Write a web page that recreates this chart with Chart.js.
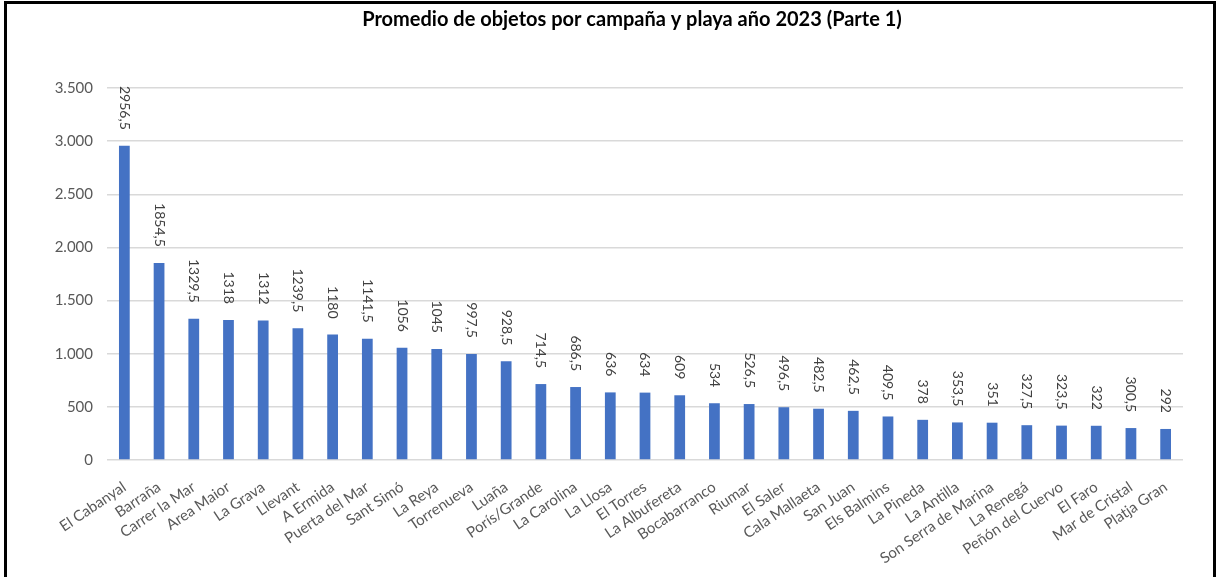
<!DOCTYPE html>
<html>
<head>
<meta charset="utf-8">
<script src="https://cdn.jsdelivr.net/npm/chart.js@4/dist/chart.umd.min.js"></script>
<style>
  html, body { margin: 0; padding: 0; background: #fff; overflow: hidden; }
  #wrap { position: relative; width: 1217px; height: 577px; }
  #frame { position: absolute; left: 4px; top: 1px; width: 1212px; height: 640px;
           box-sizing: border-box; border: 3px solid #000; pointer-events: none; }
</style>
</head>
<body>
<div id="wrap">
  <canvas id="chart" width="1217" height="577"></canvas>
  <div id="frame"></div>
</div>
<script>
// datos del grafico
var playas = ['El Cabanyal', 'Barraña', 'Carrer la Mar', 'Area Maior', 'La Grava', 'Llevant',
  'A Ermida', 'Puerta del Mar', 'Sant Simó', 'La Reya', 'Torrenueva', 'Luaña', 'Porís/Grande',
  'La Carolina', 'La Llosa', 'El Torres', 'La Albufereta', 'Bocabarranco', 'Riumar', 'El Saler',
  'Cala Mallaeta', 'San Juan', 'Els Balmins', 'La Pineda', 'La Antilla', 'Son Serra de Marina',
  'La Renegá', 'Peñón del Cuervo', 'El Faro', 'Mar de Cristal', 'Platja Gran'];
var promedios = [2956.5, 1854.5, 1329.5, 1318, 1312, 1239.5, 1180, 1141.5, 1056, 1045, 997.5,
  928.5, 714.5, 686.5, 636, 634, 609, 534, 526.5, 496.5, 482.5, 462.5, 409.5, 378, 353.5,
  351, 327.5, 323.5, 322, 300.5, 292];
var ejeMin = 0, ejeMax = 3500, ejePaso = 500;
var titulo = 'Promedio de objetos por campaña y playa año 2023 (Parte 1)';

var fuente = 'Lato, "Liberation Sans", sans-serif';

function miles(v) {
  return String(v).replace(/\B(?=(\d{3})+(?!\d))/g, '.');
}
function decimal(v) {
  return String(v).replace('.', ',');
}

// titulo (algo desplazado a la derecha como en el original) y etiquetas de valor giradas
var etiquetasPlugin = {
  id: 'etiquetas',
  afterDraw: function (chart) {
    var ctx = chart.ctx;
    ctx.save();
    ctx.font = 'bold 20px ' + fuente;
    ctx.fillStyle = '#000';
    ctx.textAlign = 'center';
    ctx.textBaseline = 'middle';
    ctx.fillText(titulo, 632, 20);
    ctx.restore();
  },
  afterDatasetsDraw: function (chart) {
    var ctx = chart.ctx;
    var meta = chart.getDatasetMeta(0);
    ctx.save();
    ctx.font = '14px ' + fuente;
    ctx.fillStyle = '#404040';
    ctx.textAlign = 'right';
    ctx.textBaseline = 'middle';
    meta.data.forEach(function (bar, i) {
      ctx.save();
      ctx.translate(bar.x, bar.y - 16);
      ctx.rotate(Math.PI / 2);
      ctx.fillText(decimal(promedios[i]), 0, 0);
      ctx.restore();
    });
    ctx.restore();
  }
};

var ctx = document.getElementById('chart').getContext('2d');
new Chart(ctx, {
  type: 'bar',
  data: {
    labels: playas,
    datasets: [{
      data: promedios,
      backgroundColor: '#4472C4',
      borderWidth: 0,
      barPercentage: 0.31,
      categoryPercentage: 1
    }]
  },
  options: {
    responsive: false,
    animation: false,
    devicePixelRatio: 1,
    layout: { padding: { left: 0, right: 34, top: 88, bottom: 0 } },
    plugins: {
      legend: { display: false },
      tooltip: { enabled: false },
      title: { display: false }
    },
    scales: {
      x: {
        grid: { display: false },
        border: { display: false },
        ticks: {
          color: '#595959',
          font: { family: fuente, size: 15 },
          minRotation: 34,
          maxRotation: 34,
          autoSkip: false,
          padding: 10
        },
        afterFit: function (scale) { scale.height = 117; }
      },
      y: {
        min: ejeMin,
        max: ejeMax,
        border: { display: false },
        grid: { color: '#d9d9d9', lineWidth: 1.5, drawTicks: false },
        ticks: {
          stepSize: ejePaso,
          color: '#595959',
          font: { family: fuente, size: 15 },
          padding: 14,
          callback: function (v) { return miles(v); }
        },
        afterFit: function (scale) { scale.width = 107; }
      }
    }
  },
  plugins: [etiquetasPlugin]
});
</script>
</body>
</html>
